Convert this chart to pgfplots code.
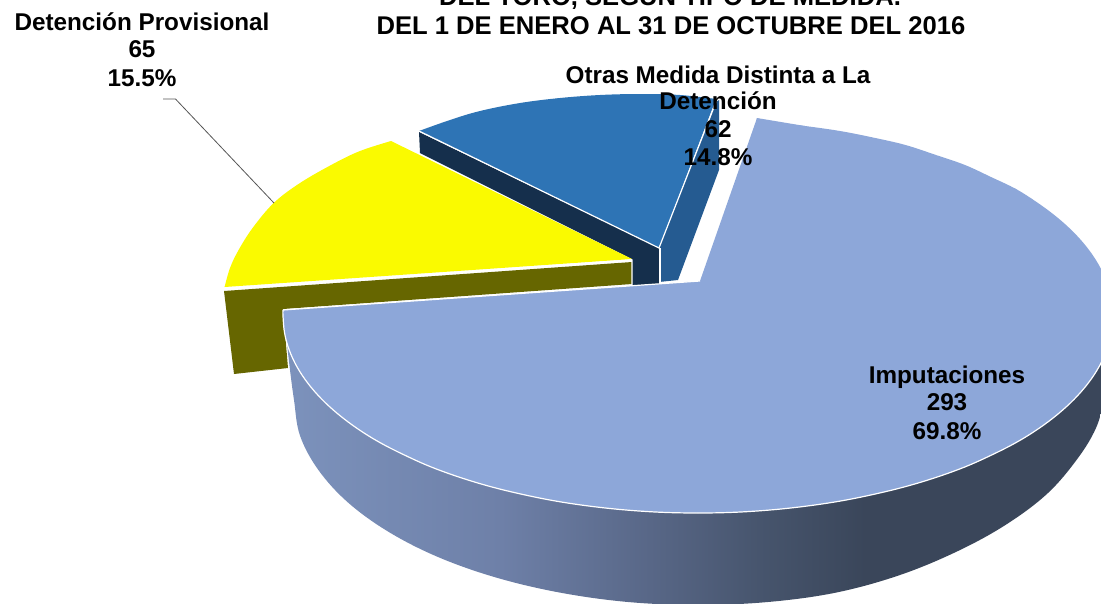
\documentclass[border=0pt]{standalone}
\usepackage{fontspec}
\setmainfont{Liberation Sans}
\usepackage{pgfplots}
\pgfplotsset{compat=1.18}
\definecolor{imp}{HTML}{8DA7D9}
\definecolor{blu}{HTML}{2E74B5}
\definecolor{bluside}{HTML}{255B91}
\definecolor{navy}{HTML}{152F4C}
\definecolor{yel}{HTML}{FAFA00}
\definecolor{oli}{HTML}{666600}
\definecolor{lead}{HTML}{555555}
\definecolor{g1}{RGB}{124,146,188}
\definecolor{g2}{RGB}{110,128,168}
\definecolor{g3}{RGB}{88,103,135}
\definecolor{g4}{RGB}{70,84,108}
\definecolor{g5}{RGB}{58,70,90}
\pgfdeclarehorizontalshading{sidegrad}{100bp}{
 color(0bp)=(g1);
 color(25bp)=(g1);
 color(38bp)=(g2);
 color(47bp)=(g3);
 color(54bp)=(g4);
 color(60bp)=(g5);
 color(100bp)=(g5)}
\tikzset{lab/.style={font=\fontsize{18.2pt}{20pt}\selectfont\bfseries,anchor=base,inner sep=0pt,text=black},
 ttl/.style={font=\fontsize{19.2pt}{20pt}\selectfont\bfseries,anchor=base,inner sep=0pt,text=black}}
\begin{document}
\begin{tikzpicture}
\clip (0,0) rectangle (825.75pt,453pt);
\begin{axis}[at={(0,0)},anchor=south west,scale only axis,width=825.75pt,height=453pt,
 xmin=0,xmax=1101,ymin=0,ymax=604,y dir=reverse,hide axis,clip=true]
% blue slice, dark side
\addplot[fill=navy,draw=none] coordinates {(419,132)(659,248)(659,284)(632,286)(632,259)(420,153)} -- cycle;
% blue slice, right cut face
\addplot[fill=bluside,draw=none] coordinates {(659,248)(716,102)(719,100)(719,170)(678,280)(659,282)} -- cycle;
% blue top
\addplot[fill=blu,draw=none] coordinates {(419,131)(560,98)(716,99)(659,248)} -- cycle;
\addplot[fill=blu,draw=none,smooth,tension=0.6] coordinates {(419,131)(450,120)(480,111)(520,103)(560,98)(600,95)(640,94)(680,95)(716,99)} -- cycle;
\addplot[white,line width=0.9pt] coordinates {(419,131)(659,248)(716,102)};
\addplot[white,line width=0.9pt] coordinates {(660,248)(660,283)};
% yellow cut face
\addplot[fill=oli,draw=none] coordinates {(224,291)(632,262)(632,284)(283,309)(288,368)(234,374)} -- cycle;
% yellow top
\addplot[fill=yel,draw=none] coordinates {(224.6,287)(273.7,203)(391,141)(632,259)} -- cycle;
\addplot[fill=yel,draw=none,smooth,tension=0.6] coordinates {(224.6,287)(230,268)(238.6,250)(252.6,228)(273.7,203)(300,183)(333,164)(360,151)(391,141)} -- cycle;
\addplot[white,line width=0.9pt] coordinates {(224,289)(632,260)(632,285)};
% big slice side
\addplot[shade,shading=sidegrad,draw=none,smooth,tension=0.6] coordinates {(286,335)(290,370)(294,400)(300,435.6)(318.4,470)(348,502.5)(388.5,531.8)(438,557)(496,577.5)(560,592.6)(628,602)(698,605)(768,602)(836,592.6)(900,575)(958,551)(1007,524)(1048,493)(1078,458)(1096,428)(1104,400)(1110,370)(1113,316)} -- cycle;
% big slice top
\addplot[fill=imp,draw=none] coordinates {(700,281)(757,118)(805,126)(1016,189)(1113,316)(1016,442.6)(698,513)(380,442.6)(297.1,367)(283,316)(283,310)} -- cycle;
\addplot[fill=imp,draw=none,smooth,tension=0.6] coordinates {(757,118)(770,122)(805,126)(840,131)(873,137.5)(905.5,145)(936,155)(965,165)(991,177)(1016,189)(1038,203)(1057.4,217.5)(1074.1,232.7)(1088,248.6)(1098.9,265)(1106.7,281.8)(1111.4,298.8)(1113,316)(1111.4,333.2)(1106.7,350.2)(1098.9,367)(1088,383.4)(1074.1,399.3)(1057.4,414.5)(1038,429)(1016,442.6)(991,455.3)(965,466.9)(936,477.4)(905.5,486.6)(873,494.5)(840,501.1)(805,506.3)(770,510)(734,512.3)(698,513)} -- cycle;
\addplot[fill=imp,draw=none,smooth,tension=0.6] coordinates {(698,513)(662,512.3)(626,510)(591,506.3)(556,501.1)(523,494.5)(490.5,486.6)(460,477.4)(431,466.9)(405,455.3)(380,442.6)(358,429)(338.6,414.5)(321.9,399.3)(308,383.4)(297.1,367)(289.3,350.2)(284.6,333.2)(283,316)(283,310)} -- cycle;
\addplot[white,line width=0.9pt] coordinates {(700,281)(283,310)};
\addplot[white,line width=0.9pt,smooth,tension=0.6] coordinates {(283,310)(283,316)(284.6,333.2)(289.3,350.2)(297.1,367)(308,383.4)(321.9,399.3)(338.6,414.5)(358,429)(380,442.6)(405,455.3)(431,466.9)(460,477.4)(490.5,486.6)(523,494.5)(556,501.1)(591,506.3)(626,510)(662,512.3)(698,513)(734,512.3)(770,510)(805,506.3)(840,501.1)(873,494.5)(905.5,486.6)(936,477.4)(965,466.9)(991,455.3)(1016,442.6)(1038,429)(1057.4,414.5)(1074.1,399.3)(1088,383.4)(1098.9,367)(1106.7,350.2)};
% leader
\addplot[lead,line width=0.6pt] coordinates {(163,99)(175.5,99)(274,203)};
% texts
\node[ttl] at (axis cs:670,5) {DEL TORO, SEGUN TIPO DE MEDIDA.};
\node[ttl] at (axis cs:671,34) {DEL 1 DE ENERO AL 31 DE OCTUBRE DEL 2016};
\node[lab] at (axis cs:142,30) {Detención Provisional};
\node[lab] at (axis cs:142,57) {65};
\node[lab] at (axis cs:142,86) {15.5\%};
\node[lab] at (axis cs:718,83) {Otras Medida Distinta a La};
\node[lab] at (axis cs:718,109) {Detención};
\node[lab] at (axis cs:718,137) {62};
\node[lab] at (axis cs:718,165) {14.8\%};
\node[lab] at (axis cs:947,383) {Imputaciones};
\node[lab] at (axis cs:947,410) {293};
\node[lab] at (axis cs:947,439) {69.8\%};
\end{axis}
\end{tikzpicture}
\end{document}
